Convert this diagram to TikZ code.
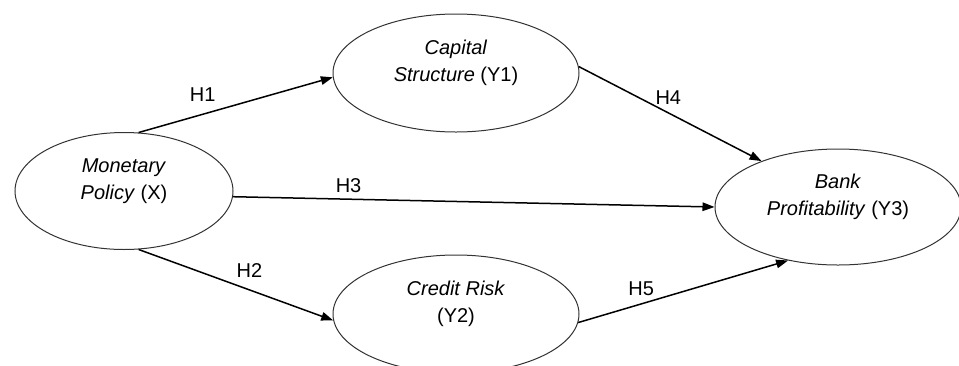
\documentclass[tikz,border=0pt]{standalone}
\usepackage{fontspec}
\setmainfont{Liberation Sans}
\usetikzlibrary{arrows.meta,shapes.geometric}

\begin{document}
\begin{tikzpicture}[
    x=1pt, y=-1pt,
    var/.style={
        ellipse,
        draw=black!80,
        line width=1pt,
        inner sep=0pt,
        minimum width=246pt,
        minimum height=118pt
    },
    txt/.style={
        align=center,
        inner sep=0pt,
        yshift=10pt,
        font=\fontsize{20}{27}\selectfont
    },
    hyp/.style={inner sep=0pt, font=\fontsize{20}{24}\selectfont},
    arrow/.style={-{Triangle[length=12pt,width=8.5pt]}, line width=1.5pt, black}
]
\useasboundingbox (0,0) rectangle (959,365);

\node[var, minimum width=218pt, minimum height=117pt,
      label={[txt, name=mont]center:{\textit{Monetary}\\\textit{Policy} (X)}}] (mon) at (124,191) {};
\node[var, label={[txt, name=capt]center:{\textit{Capital}\\\textit{Structure} (Y1)}}] (cap) at (456,73) {};
\node[var, label={[txt, name=cret]center:{\textit{Credit Risk}\\(Y2)}}] (cre) at (456,314) {};
\node[var, minimum height=116pt,
      label={[txt, name=bant]center:{\textit{Bank}\\\textit{Profitability} (Y3)}}] (ban) at (838,207) {};

\draw[arrow] (mon.76) -- node[hyp, pos=0.33, above=12pt] (h1) {H1} (cap.182);
\draw[arrow] (mon.-76) -- node[hyp, pos=0.57, above=12pt] (h2) {H2} (cre.183);
\draw[arrow] (mon.-3) -- node[hyp, pos=0.24, above=6pt] (h3) {H3} (ban.west);
\draw[arrow] (cap.3) -- node[hyp, pos=0.49, above=7.5pt] (h4) {H4} (ban.149);
\draw[arrow] (cre.-4) -- node[hyp, pos=0.30, above=7.5pt] (h5) {H5} (ban.227);
\end{tikzpicture}
\end{document}
